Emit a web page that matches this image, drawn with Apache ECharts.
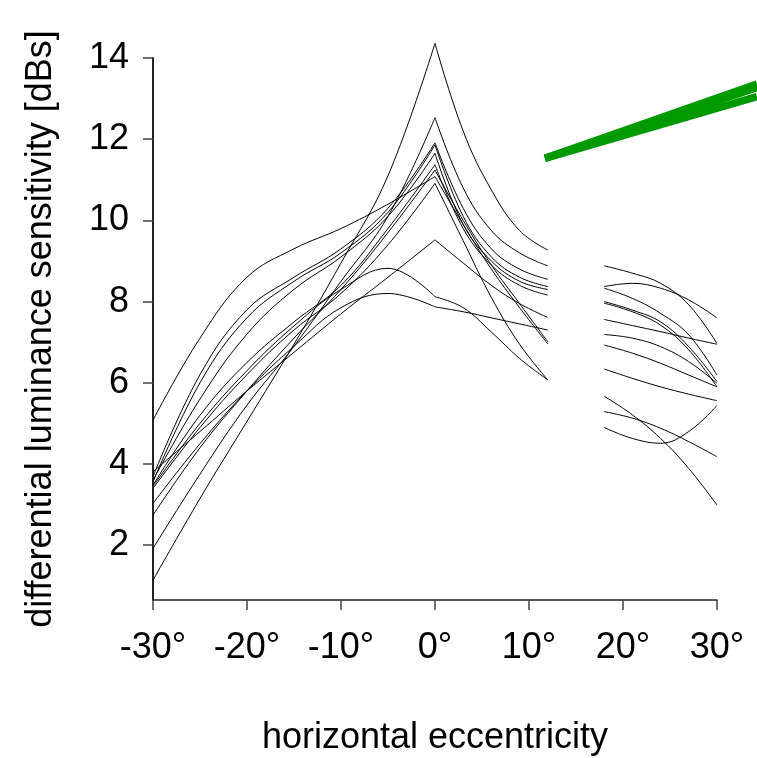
<!DOCTYPE html>
<html>
<head>
<meta charset="utf-8">
<script src="https://cdn.jsdelivr.net/npm/echarts@6/dist/echarts.min.js"></script>
<style>
  html, body { margin: 0; padding: 0; background: #fff; }
  #chart { width: 757px; height: 758px; }
</style>
</head>
<body>
<div id="chart"></div>
<script>
// x positions (degrees) of the sampled points in each piece
var leftX = [-30, -25, -20, -15, -10, -5, 0];
var midX = [0, 3, 6, 9, 12];
var farX = [18, 21, 24, 27, 30];

// rising part, -30 .. 0
var leftRise = [
    [1.14, 3.15, 5.05, 6.95, 8.95, 11.10, 14.36],
    [1.92, 3.75, 5.45, 6.90, 8.50, 10.10, 12.53],
    [3.69, 6.20, 7.80, 8.60, 9.30, 10.30, 11.91],
    [3.56, 6.00, 7.60, 8.50, 9.20, 10.20, 11.86],
    [3.60, 5.60, 7.20, 8.30, 9.10, 10.10, 11.65],
    [3.48, 5.20, 6.50, 7.50, 8.40, 9.80, 11.37],
    [2.74, 4.40, 5.80, 7.10, 8.30, 9.70, 11.24],
    [5.08, 7.10, 8.60, 9.30, 9.80, 10.40, 11.08],
    [3.40, 4.90, 6.20, 7.30, 8.20, 9.40, 10.91],
    [3.81, 4.80, 5.80, 6.75, 7.70, 8.60, 9.52],
    [3.45, 5.00, 6.30, 7.40, 8.30, 8.82, 8.12],
    [3.03, 4.50, 5.80, 6.90, 7.85, 8.20, 7.87]
];

// falling part, 0 .. 12
var midFall = [
    [14.36, 12.20, 10.75, 9.75, 9.27],
    [12.53, 10.80, 9.75, 9.20, 8.88],
    [11.91, 10.30, 9.30, 8.80, 8.55],
    [11.86, 10.10, 9.10, 8.60, 8.37],
    [11.65, 9.90, 9.00, 8.50, 8.30],
    [11.37, 9.80, 8.90, 8.40, 8.16],
    [11.24, 10.00, 8.90, 7.95, 7.01],
    [11.08, 9.90, 8.80, 7.85, 6.96],
    [10.91, 9.50, 8.10, 6.95, 6.07],
    [9.52, 8.95, 8.40, 7.95, 7.61],
    [8.12, 7.85, 7.25, 6.60, 6.07],
    [7.87, 7.75, 7.60, 7.45, 7.30]
];

// separate pieces, 18 .. 30
var farCurves = [
    [8.88, 8.70, 8.45, 7.92, 6.97],
    [8.37, 8.45, 8.33, 8.04, 7.60],
    [8.33, 8.08, 7.71, 7.18, 6.19],
    [8.00, 7.79, 7.50, 6.89, 6.03],
    [7.96, 7.75, 7.42, 6.81, 5.90],
    [7.56, 7.41, 7.26, 7.10, 6.95],
    [7.19, 7.10, 6.89, 6.52, 5.99],
    [6.93, 6.73, 6.48, 6.19, 5.90],
    [6.34, 6.11, 5.90, 5.72, 5.56],
    [5.67, 5.21, 4.63, 3.89, 2.99],
    [5.29, 5.13, 4.88, 4.55, 4.18],
    [4.90, 4.63, 4.51, 4.80, 5.44]
];

// thick green lines running off the top right
var greenX = [11.7, 34.26];
var greenLines = [
    [11.53, 13.36],
    [11.53, 13.27],
    [11.53, 13.05]
];

var yTicks = [2, 4, 6, 8, 10, 12, 14];

function pairs(xs, ys) {
    var out = [];
    for (var i = 0; i < xs.length; i++) out.push([xs[i], ys[i]]);
    return out;
}

// all marks go on grid 1 (hidden axes, same scale, room to run past the frame)
var series = [];
[[leftX, leftRise], [midX, midFall], [farX, farCurves]].forEach(function (part) {
    part[1].forEach(function (ys) {
        series.push({
            type: 'line',
            xAxisIndex: 1,
            yAxisIndex: 1,
            data: pairs(part[0], ys),
            smooth: 0.4,
            symbol: 'none',
            silent: true,
            lineStyle: {color: '#000', width: 1}
        });
    });
});
greenLines.forEach(function (ys) {
    series.push({
        type: 'line',
        xAxisIndex: 1,
        yAxisIndex: 1,
        data: pairs(greenX, ys),
        symbol: 'none',
        silent: true,
        lineStyle: {color: '#009900', width: 7.5, cap: 'butt'}
    });
});

var chart = echarts.init(document.getElementById('chart'));
chart.setOption({
    animation: false,
    backgroundColor: '#fff',
    textStyle: {fontFamily: 'Liberation Sans, Arial, sans-serif'},
    grid: [
        {left: 153, right: 40, top: 58, bottom: 158, outerBoundsMode: 'none', containLabel: false},
        {left: 153, right: 0, top: 17.4, bottom: 158, outerBoundsMode: 'none', containLabel: false}
    ],
    xAxis: [{
        type: 'value',
        gridIndex: 0,
        min: -30,
        max: 30,
        interval: 10,
        name: 'horizontal eccentricity',
        nameLocation: 'middle',
        nameGap: 120,
        nameTextStyle: {fontSize: 36, color: '#000'},
        axisLine: {onZero: false, lineStyle: {color: '#222', width: 1.5}},
        axisTick: {length: 10, lineStyle: {color: '#444', width: 1.5}},
        axisLabel: {
            fontSize: 36,
            color: '#000',
            margin: 30,
            formatter: function (v) { return v + '°'; }
        },
        splitLine: {show: false}
    }, {
        type: 'value',
        gridIndex: 1,
        min: -30,
        max: 34.26,
        show: false
    }],
    yAxis: [{
        type: 'value',
        gridIndex: 0,
        min: 0.65,
        max: 14,
        name: 'differential luminance sensitivity [dBs]',
        nameLocation: 'middle',
        nameGap: 94,
        nameTextStyle: {fontSize: 36, color: '#000'},
        axisLine: {show: true, onZero: false, lineStyle: {color: '#222', width: 2}},
        axisTick: {show: true, length: 10, customValues: yTicks, lineStyle: {color: '#444', width: 1.5}},
        axisLabel: {fontSize: 36, color: '#000', margin: 24, customValues: yTicks},
        splitLine: {show: false}
    }, {
        type: 'value',
        gridIndex: 1,
        min: 0.65,
        max: 15,
        show: false
    }],
    series: series
});
</script>
</body>
</html>
